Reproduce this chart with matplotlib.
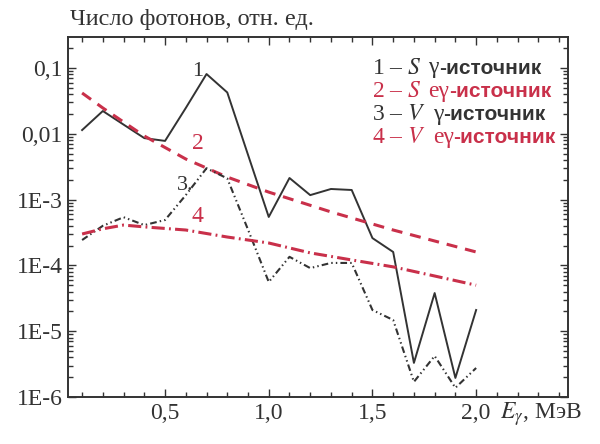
import matplotlib
matplotlib.use('Agg')
import matplotlib.pyplot as plt
from matplotlib.ticker import FixedLocator, LogLocator, MultipleLocator, NullFormatter

plt.rcParams['font.family'] = ['Liberation Serif', 'DejaVu Serif']
plt.rcParams['mathtext.fontset'] = 'stix'

# Photon spectra, relative units
energy = [0.1, 0.2, 0.3, 0.4, 0.5, 0.6, 0.7, 0.8, 0.9, 1.0,
          1.1, 1.2, 1.3, 1.4, 1.5, 1.6, 1.7, 1.8, 1.9, 2.0]
s_gamma = [0.0114, 0.0222, 0.0138, 0.0086, 0.0078, 0.0247, 0.081, 0.0425, 0.0048, 5.45e-4,
           2.13e-3, 1.17e-3, 1.45e-3, 1.4e-3, 2.6e-4, 1.6e-4, 3.3e-6, 3.8e-5, 1.95e-6, 2.1e-5]
v_gamma = [2.43e-4, 4.0e-4, 5.4e-4, 4.1e-4, 4.9e-4, 1.17e-3, 3.0e-3, 2.1e-3, 3.5e-4, 5.6e-5,
           1.35e-4, 9.1e-5, 1.09e-4, 1.09e-4, 2.1e-5, 1.48e-5, 1.7e-6, 4.2e-6, 1.38e-6, 2.76e-6]

# smooth fits for the e-gamma source
s_egamma_e = [0.1, 0.2, 0.3, 0.4, 0.6, 0.8, 1.0, 1.3, 1.6, 2.0]
s_egamma = [0.0417, 0.0247, 0.0151, 0.00926, 0.00414, 0.0022, 0.0013, 6.5e-4, 3.45e-4, 1.6e-4]
v_egamma_e = [0.1, 0.2, 0.3, 0.4, 0.6, 0.8, 1.0, 1.2, 1.4, 1.6, 1.8, 2.0]
v_egamma = [3.0e-4, 3.6e-4, 4.1e-4, 3.85e-4, 3.45e-4, 2.7e-4, 2.19e-4, 1.55e-4, 1.21e-4, 9.5e-5, 6.9e-5, 5.0e-5]

ytick_vals = [1e-1, 1e-2, 1e-3, 1e-4, 1e-5, 1e-6]
ytick_labels = ['0,1', '0,01', '1E-3', '1E-4', '1E-5', '1E-6']
xtick_vals = [0.5, 1.0, 1.5, 2.0]
xtick_labels = ['0,5', '1,0', '1,5', '2,0']

dark = '#333333'
red = '#c9304a'

fig = plt.figure(figsize=(6, 4.44), dpi=100)
ax = fig.add_axes([68 / 600, 1 - 397 / 444, 500 / 600, 360 / 444])

ax.plot(energy, s_gamma, color=dark, lw=1.4)
ax.plot(s_egamma_e, s_egamma, color=red, lw=2.2, dashes=(3.6, 2.6))
ax.plot(energy, v_gamma, color=dark, lw=1.5, dashes=(3.2, 1.5, 0.7, 1.5, 0.7, 1.5))
ax.plot(v_egamma_e, v_egamma, color=red, lw=2.2, dashes=(4.3, 1.4, 0.6, 1.4))

ax.set_yscale('log')
ax.set_xlim(0.032, 2.443)
ax.set_ylim(1e-6, 0.296)

ax.xaxis.set_major_locator(FixedLocator(xtick_vals))
ax.set_xticklabels(xtick_labels)
ax.xaxis.set_minor_locator(MultipleLocator(0.1))
ax.yaxis.set_major_locator(FixedLocator(ytick_vals))
ax.set_yticklabels(ytick_labels)
ax.yaxis.set_minor_locator(LogLocator(base=10, subs=range(2, 10), numticks=20))
ax.yaxis.set_minor_formatter(NullFormatter())

ax.tick_params(which='both', direction='in', top=True, right=True, colors=dark,
               labelsize=17, width=1.0)
ax.tick_params(which='major', length=6, pad=4)
ax.tick_params(which='minor', length=3.5)
for sp in ax.spines.values():
    sp.set_color(dark)
    sp.set_linewidth(1.4)

# curve numbers
ax.text(0.659, 0.087, '1', color=dark, fontsize=16, ha='center', va='center')
ax.text(0.66, 0.0072, '2', color=red, fontsize=17, ha='center', va='center')
ax.text(0.597, 1.66e-3, '3.', color=dark, fontsize=16, ha='center', va='center')
ax.text(0.654, 5.5e-4, '4', color=red, fontsize=17, ha='center', va='center')

# legend as plain text: "N – X" (serif), source type, then "-источник" (bold sans)
legend_rows = [
    ('1', '$S$', 'γ', dark),
    ('2', '$S$', 'eγ', red),
    ('3', '$V$', 'γ', dark),
    ('4', '$V$', 'eγ', red),
]
for i, (num, var, kind, col) in enumerate(legend_rows):
    y = 1 - (68 + 23.3 * i) / 444
    t1 = fig.text(372 / 600, y, num + ' – ' + var, color=col, fontsize=17,
                  ha='left', va='center')
    t2 = ax.annotate(kind, xy=(1, 0.5), xycoords=t1, xytext=(5, 0),
                     textcoords='offset points', color=col, fontsize=17,
                     ha='left', va='center')
    ax.annotate('-источник', xy=(1, 0.5), xycoords=t2, xytext=(0, 0),
                textcoords='offset points', color=col, fontsize=15, fontweight='bold',
                family=['Liberation Sans', 'DejaVu Sans'], ha='left', va='center')

fig.text(70 / 600, 1 - 20 / 444, 'Число фотонов, отн. ед.', color=dark, fontsize=17.5,
         ha='left', va='center')
fig.text(500 / 600, 1 - 414 / 444, r'$E_\gamma$, МэВ', color=dark, fontsize=17,
         ha='left', va='center')

fig.savefig('out.png', dpi=100)
